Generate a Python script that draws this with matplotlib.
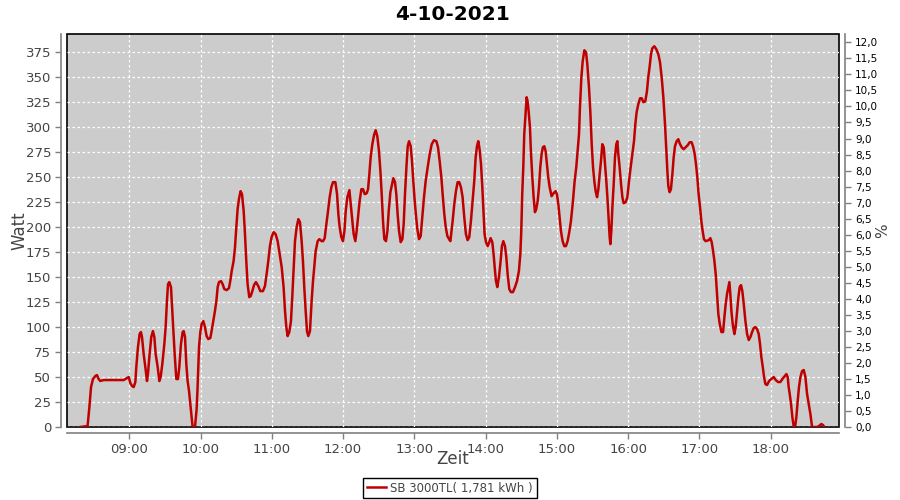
import matplotlib
matplotlib.use('Agg')
import matplotlib.pyplot as plt
from matplotlib.ticker import FuncFormatter, MultipleLocator

# minutes since midnight
minutes = [
	498.8, 504.9, 506.4, 507.8, 509.4, 511.4, 512.8, 514.2, 515.6, 518.4, 535.3, 538.1, 539.5,
	540.9, 542.3, 543.7, 545.1, 545.9, 547.3, 548.7, 549.8, 550.7, 552.1, 553.5, 554.9, 555.7,
	557.1, 558.5, 559.9, 561.1, 562.2, 563.9, 565.3, 566.4, 567.8, 569.5, 570.6, 571.7, 572.6,
	573.7, 575.1, 576.2, 577.3, 578.2, 579.6, 581.0, 582.1, 583.5, 584.9, 585.8, 586.9, 588.0,
	589.1, 590.3, 591.4, 592.5, 593.3, 595.3,
	596.7, 597.5, 598.7, 599.8, 600.9, 602.3, 603.7, 605.1, 606.5, 608.2, 609.3, 610.7, 612.1,
	613.3, 614.4, 615.5, 617.2, 618.6, 620.0, 622.0, 623.9, 625.0, 626.2, 627.8, 629.0, 630.1,
	631.2, 632.3, 633.7, 634.9, 636.3, 637.4, 638.5, 639.6, 641.0, 642.2, 643.6, 645.0, 646.6,
	648.6, 650.3, 652.5, 654.2, 655.6, 657.0, 658.4, 659.8, 661.5, 663.2, 664.9, 666.6, 668.3,
	669.9, 671.1, 672.2, 673.3, 674.7, 676.1, 677.2, 678.4, 679.5, 680.9, 682.3, 683.7, 685.1,
	686.2, 687.3, 688.5, 689.6, 690.7, 692.1, 693.5, 694.6, 695.7, 696.9, 698.6, 700.0, 701.9,
	703.1, 704.5, 705.9, 707.3, 708.7, 710.1, 711.5, 713.5, 714.9, 716.0, 717.1, 718.5, 719.9,
	721.1, 722.2, 723.6, 725.3, 726.4, 727.8, 728.9, 730.3, 731.4, 732.8, 733.9, 735.4, 736.8,
	738.2, 739.9, 741.0, 742.1, 743.2, 744.6, 746.0, 747.4, 748.8, 750.2, 751.4, 752.5, 753.6,
	754.7, 756.1, 757.3, 758.4, 759.8, 761.2, 762.3, 763.7, 764.8, 765.9, 767.1, 768.5, 769.9,
	771.0, 772.1, 773.3, 774.4, 775.5, 776.9, 778.0, 779.1, 780.3, 781.4, 782.5, 783.9, 785.3,
	786.7, 788.1, 789.5, 791.2, 792.9, 794.6, 796.5, 798.5, 799.9, 801.3, 802.7, 803.8, 805.2,
	806.4, 807.8, 809.2, 810.3,
	812.2, 813.6, 815.0, 816.4, 817.8, 819.2, 820.6, 822.0, 823.4, 824.8, 826.2, 827.6, 829.0,
	830.4, 831.6, 832.7, 833.8, 834.9, 836.1, 837.2, 838.3, 839.1, 840.3, 841.7, 843.1, 844.2,
	845.6, 846.7, 847.6, 848.7, 849.8, 851.2, 852.6, 853.7, 854.9, 856.3, 857.4, 858.5, 859.9,
	861.3, 863.0, 864.7, 866.4, 868.0, 869.2, 870.0, 870.8, 871.7, 872.5, 873.7, 874.5, 875.3,
	876.2, 877.3, 878.1, 879.3, 880.4, 881.5, 882.6, 883.8, 884.9, 886.0, 887.1, 888.2, 889.4,
	890.5, 891.6, 892.7, 893.9, 895.5, 897.2, 898.9, 900.0, 901.2, 902.3, 903.4, 904.8, 906.2,
	907.6, 909.0, 910.4, 911.8, 913.5, 914.9, 916.3, 917.4,
	918.6, 919.4, 920.6, 921.7, 923.1, 924.5, 925.6, 927.0, 928.1, 929.3, 930.4, 931.5, 932.6,
	933.8, 934.9, 936.0, 937.1, 938.2, 939.4, 940.5, 941.6, 942.7, 943.6, 944.4, 945.0, 945.8,
	946.7, 947.8, 948.9, 950.0, 950.9, 951.7, 952.8, 954.0, 955.1, 956.2, 957.9, 959.3, 960.7,
	962.1, 963.5, 964.9, 966.0, 967.1, 968.5, 970.0, 971.4, 972.8, 974.4, 975.8, 976.9, 978.1,
	979.2, 980.3, 982.0, 983.7, 985.4, 986.8, 988.2, 989.6, 991.0, 992.1, 993.0, 993.8, 994.9,
	996.0, 997.2, 998.3, 999.4, 1000.8, 1002.2, 1003.3, 1005.0, 1006.7, 1008.4, 1010.1, 1011.8,
	1013.4, 1014.8, 1016.0, 1017.1, 1018.2, 1019.3, 1020.5, 1021.6, 1022.7, 1023.8, 1025.2,
	1027.8, 1029.2, 1030.3, 1031.5, 1032.6, 1033.7, 1034.8, 1035.9, 1037.1, 1038.5, 1039.9,
	1041.0, 1042.1, 1043.2, 1044.4, 1045.2, 1046.0, 1046.9, 1048.0, 1049.4, 1050.5, 1051.7,
	1052.8, 1053.9, 1055.0, 1056.1, 1057.3, 1058.7, 1060.1, 1061.5, 1062.9, 1064.3, 1065.7,
	1067.1, 1068.5, 1069.9, 1071.0, 1072.1, 1073.3, 1074.4, 1075.5, 1076.9, 1078.6, 1080.6,
	1082.5, 1084.2, 1086.2, 1088.1, 1089.8, 1091.8, 1093.2, 1094.3, 1095.1, 1096.0, 1097.1,
	1098.2, 1099.4, 1100.5, 1101.6, 1102.7, 1103.8, 1105.0, 1106.4, 1107.8, 1109.2, 1110.6,
	1112.0, 1113.4, 1114.8, 1119.0, 1120.7, 1122.6, 1124.0, 1125.1,
]

watt = [
	0, 1, 20, 40, 48, 51, 52, 48, 46, 47, 47, 49, 50,
	44, 41, 40, 45, 60, 80, 93, 95, 90, 73, 60, 46, 53,
	73, 90, 96, 90, 73, 60, 46, 50, 63, 83, 100, 126, 143,
	145, 140, 116, 93, 73, 48, 48, 60, 83, 95, 96, 90, 63,
	46, 36, 23, 10, 0, 0,
	18, 40, 80, 95, 103, 106, 100, 91, 88, 89, 96, 106, 116,
	126, 140, 145, 146, 143, 138, 137, 139, 146, 156, 166, 180, 200,
	218, 228, 236, 233, 216, 193, 166, 143, 130, 131, 136, 142, 145,
	141, 136, 136, 141, 153, 166, 181, 190, 195, 193, 186, 173, 160,
	140, 116, 100, 91, 95, 106, 130, 160, 186, 200, 208, 205, 186,
	166, 140, 116, 96, 91, 96, 126, 145, 160, 176, 186, 188, 186,
	186, 189, 203, 216, 230, 240, 245, 245, 233, 213, 200, 190, 186,
	196, 216, 230, 237, 223, 206, 193, 186, 196, 213, 226, 238, 238,
	233, 234, 238, 253, 270, 283, 292, 297, 291, 276, 256, 233, 206,
	188, 186, 196, 216, 235, 243, 249, 245, 233, 213, 196, 185, 188,
	203, 233, 260, 281, 286, 281, 266, 246, 226, 211, 198, 188, 191,
	210, 230, 246, 260, 273, 283, 287, 286, 280, 266, 250, 233, 213,
	200, 191, 188, 186,
	206, 223, 236, 245, 245, 240, 230, 210, 193, 187, 190, 206, 226,
	246, 270, 281, 286, 278, 263, 240, 213, 193, 185, 181, 185, 189,
	185, 173, 160, 146, 140, 150, 166, 181, 186, 181, 170, 153, 138,
	135, 135, 140, 146, 156, 173, 196, 233, 260, 293, 316, 330, 326,
	316, 300, 276, 250, 230, 215, 218, 226, 240, 260, 273, 280, 281,
	276, 263, 250, 240, 231, 234, 236, 233, 223, 210, 196, 186, 181,
	181, 186, 195, 206, 226, 246, 260, 276,
	293, 320, 350, 366, 377, 375, 363, 340, 316, 283, 260, 246, 236,
	230, 238, 253, 266, 283, 280, 263, 246, 226, 206, 190, 183, 196,
	220, 243, 270, 283, 286, 273, 260, 243, 230, 224, 225, 230, 246,
	260, 273, 286, 303, 315, 323, 329, 329, 325, 326, 336, 350, 361,
	373, 379, 381, 378, 373, 365, 350, 330, 303, 276, 256, 241, 235,
	238, 253, 270, 281, 286, 288, 284, 280, 278, 280, 282, 285,
	285, 280, 273, 263, 250, 233, 220, 206, 196, 188, 186,
	187, 189, 185, 176, 166, 153, 133, 113, 103, 95, 95,
	110, 123, 133, 140, 145, 133, 116, 103, 93, 100, 116,
	130, 140, 142, 136, 123, 106, 93, 87, 90, 95, 99,
	100, 98, 93, 83, 70, 60, 50, 43, 42, 46, 48,
	50, 47, 45, 45, 48, 51, 53, 50, 40, 33, 23,
	10, 0, 0, 10, 26, 40, 50, 56, 57, 50, 33,
	23, 13, 0, 0, 1, 3, 2, 0,
]

title = '4-10-2021'
legend_label = 'SB 3000TL( 1,781 kWh )'
hour_ticks = [9, 10, 11, 12, 13, 14, 15, 16, 17, 18]

hours = [m / 60.0 for m in minutes]

fig = plt.figure(figsize=(9, 5), dpi=100)
ax = fig.add_axes([67 / 900, 73 / 500, 772 / 900, 393 / 500])
ax.set_facecolor('#cccccc')
ax.patch.set_edgecolor('black')
ax.patch.set_linewidth(1.2)

line, = ax.plot(hours, watt, color='#c00000', linewidth=1.8, label=legend_label, zorder=3)

ax.set_xlim(8.126, 18.958)
ax.set_ylim(0, 393.3)
ax.yaxis.set_major_locator(MultipleLocator(25))
ax.set_xticks(hour_ticks)
ax.xaxis.set_major_formatter(FuncFormatter(lambda v, p: '%02d:00' % round(v)))
ax.grid(True, color='white', linestyle=(0, (2, 2)), linewidth=0.9)
ax.set_axisbelow(True)

for side in ['top', 'right']:
	ax.spines[side].set_visible(False)
for side in ['left', 'bottom']:
	ax.spines[side].set_position(('outward', 4))
	ax.spines[side].set_color('#808080')
	ax.spines[side].set_linewidth(1.2)
ax.tick_params(colors='#808080', labelcolor='#444444', labelsize=9.5, length=4, width=1)

ax.set_ylabel('Watt', fontsize=12, color='#444444', labelpad=-2)
ax.set_xlabel('Zeit', fontsize=12, color='#444444', labelpad=-4)

ax2 = ax.twinx()
ax2.set_ylim(0, 12.26)
ax2.yaxis.set_major_locator(MultipleLocator(0.5))
ax2.yaxis.set_major_formatter(FuncFormatter(lambda v, p: ('%.1f' % v).replace('.', ',')))
for side in ['top', 'left', 'bottom']:
	ax2.spines[side].set_visible(False)
ax2.spines['right'].set_position(('outward', 4))
ax2.spines['right'].set_color('#808080')
ax2.spines['right'].set_linewidth(1.2)
ax2.tick_params(colors='#808080', labelcolor='black', labelsize=7.5, length=4, width=1)
ax2.set_ylabel('%', fontsize=11, color='#444444', labelpad=-2)

fig.text(453 / 900, 0.972, title, ha='center', va='center', fontsize=14.5, fontweight='bold')

leg = fig.legend(handles=[line], loc='lower center', bbox_to_anchor=(0.5, -0.008), fontsize=8.5,
	fancybox=False, edgecolor='black', framealpha=1, handlelength=1.6, borderpad=0.3,
	handletextpad=0.4)
leg.get_frame().set_linewidth(1)
for t in leg.get_texts():
	t.set_color('#444444')

fig.savefig('out.png', dpi=100)
